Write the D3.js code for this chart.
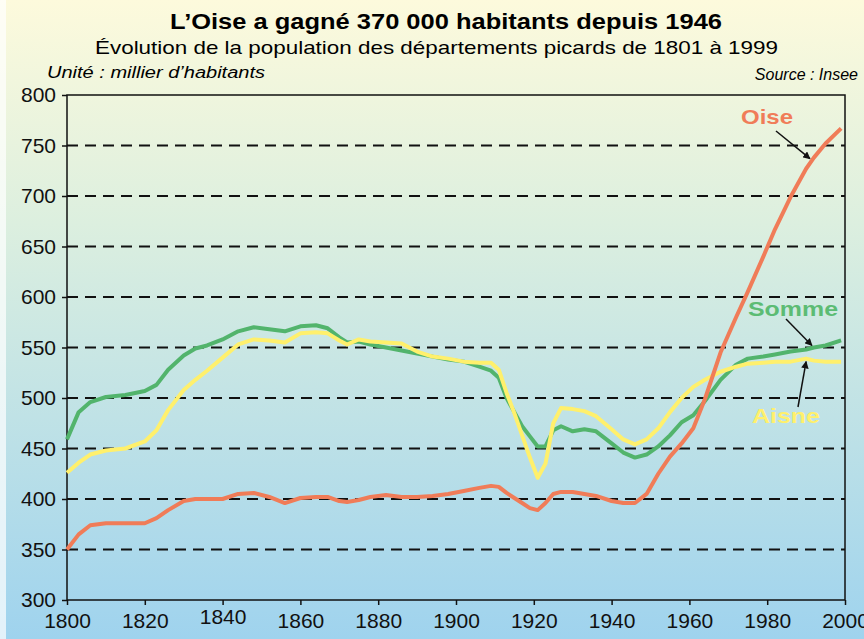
<!DOCTYPE html>
<html>
<head>
<meta charset="utf-8">
<script src="https://cdn.jsdelivr.net/npm/d3@7"></script>
<style>
  body { margin: 0; }
  text { font-family: "Liberation Sans", Arial, sans-serif; }
</style>
</head>
<body>
<script>
// data (milliers d'habitants)
var years = [1800, 1803, 1806, 1810, 1815, 1820, 1823, 1826, 1830, 1833, 1836, 1840,
  1844, 1848, 1852, 1856, 1860, 1864, 1867, 1870, 1872, 1875, 1878, 1882, 1886,
  1890, 1894, 1898, 1902, 1906, 1909, 1911, 1913, 1915, 1917, 1919, 1921, 1923,
  1925, 1927, 1930, 1933, 1936, 1940, 1943, 1946, 1949, 1952, 1955, 1958, 1961,
  1964, 1968, 1972, 1975, 1979, 1982, 1986, 1990, 1992, 1995, 1999];

var somme = [459, 486, 496, 501, 503, 507, 513, 528, 542, 549, 552, 558,
  566, 570, 568, 566, 571, 572, 569, 560, 555, 556, 553, 550, 547,
  544, 541, 538, 536, 531, 527, 520, 500, 486, 472, 462, 452, 452,
  468, 472, 467, 469, 467, 455, 446, 441, 444, 452, 463, 476, 483,
  497, 518, 533, 539, 541, 543, 546, 548, 550, 552, 557];

var aisne = [426, 436, 444, 448, 450, 457, 468, 488, 508, 518, 527, 540,
  553, 558, 557, 555, 564, 565, 564, 557, 553, 558, 556, 555, 554,
  546, 541, 539, 536, 535, 535, 528, 505, 485, 463, 441, 421, 435,
  475, 490, 489, 487, 482, 469, 459, 454, 459, 470, 486, 500, 511,
  518, 526, 531, 534, 535, 536, 536, 539, 537, 536, 536];

var oise = [350, 365, 374, 376, 376, 376, 381, 389, 398, 400, 400, 400,
  405, 406, 402, 396, 401, 402, 402, 398, 397, 399, 402, 404, 402,
  402, 403, 405, 408, 411, 413, 412, 406, 401, 396, 391, 389, 396,
  405, 407, 407, 405, 403, 398, 396, 396, 405, 425, 442, 455, 470,
  499, 545, 580, 605, 640, 667, 699, 727, 738, 752, 767];

var yTicks = [300, 350, 400, 450, 500, 550, 600, 650, 700, 750, 800];
var xTicks = [1800, 1820, 1840, 1860, 1880, 1900, 1920, 1940, 1960, 1980, 2000];
var gridValues = [350, 400, 450, 500, 550, 600, 650, 700, 750];

var W = 864, H = 639;
var margin = {top: 95, right: 19, bottom: 39, left: 67};

var svg = d3.select("body").append("svg")
    .attr("width", W)
    .attr("height", H);

// background gradient
var grad = svg.append("defs").append("linearGradient")
    .attr("id", "bg")
    .attr("x1", 0).attr("y1", 0).attr("x2", 0).attr("y2", 1);
grad.append("stop").attr("offset", "0%").attr("stop-color", "#fdfadc");
grad.append("stop").attr("offset", "35%").attr("stop-color", "#dcefdf");
grad.append("stop").attr("offset", "100%").attr("stop-color", "#9fd3ee");

svg.append("rect")
    .attr("width", W).attr("height", H)
    .attr("fill", "url(#bg)");
svg.append("rect")
    .attr("width", 6).attr("height", H)
    .attr("fill", "#ffffff").attr("opacity", 0.7);

var x = d3.scaleLinear().domain([1800, 2000]).range([margin.left, W - margin.right]);
var y = d3.scaleLinear().domain([300, 800]).range([H - margin.bottom, margin.top]);

// titles (the original type is a bit wider, so stretch to its measured width)
svg.append("text")
    .attr("x", 170).attr("y", 29)
    .attr("font-size", 22).attr("font-weight", "bold")
    .attr("textLength", 552).attr("lengthAdjust", "spacingAndGlyphs")
    .text("L\u2019Oise a gagné 370 000 habitants depuis 1946");
svg.append("text")
    .attr("x", 95).attr("y", 54)
    .attr("font-size", 19)
    .attr("textLength", 683).attr("lengthAdjust", "spacingAndGlyphs")
    .text("Évolution de la population des départements picards de 1801 à 1999");
svg.append("text")
    .attr("x", 47).attr("y", 78)
    .attr("font-size", 16).attr("font-style", "italic")
    .attr("textLength", 218).attr("lengthAdjust", "spacingAndGlyphs")
    .text("Unité : millier d\u2019habitants");
svg.append("text")
    .attr("x", 858).attr("y", 80)
    .attr("text-anchor", "end")
    .attr("font-size", 16).attr("font-style", "italic")
    .text("Source : Insee");

// dashed grid
svg.append("g")
  .selectAll("line")
  .data(gridValues)
  .join("line")
    .attr("x1", x(1800)).attr("x2", x(2000))
    .attr("y1", function(d) { return y(d); })
    .attr("y2", function(d) { return y(d); })
    .attr("stroke", "#111")
    .attr("stroke-width", 2)
    .attr("stroke-dasharray", "11,7");

// frame
svg.append("rect")
    .attr("x", x(1800)).attr("y", y(800))
    .attr("width", x(2000) - x(1800))
    .attr("height", y(300) - y(800))
    .attr("fill", "none")
    .attr("stroke", "#111")
    .attr("stroke-width", 1.5);

// axes
var xAxis = svg.append("g")
    .attr("transform", "translate(0," + y(300) + ")")
    .call(d3.axisBottom(x).tickValues(xTicks).tickFormat(d3.format("d"))
      .tickSize(5).tickSizeOuter(0).tickPadding(8));
xAxis.select(".domain").remove();
xAxis.selectAll("line").attr("stroke", "#111").attr("stroke-width", 1.5);
xAxis.selectAll("text")
    .attr("font-size", 21)
    .attr("fill", "#111")
    .attr("dy", function(d) { return d === 1840 ? "0.5em" : "0.71em"; })
    .attr("font-family", "Liberation Sans, Arial, sans-serif");

var yAxis = svg.append("g")
    .attr("transform", "translate(" + x(1800) + ",0)")
    .call(d3.axisLeft(y).tickValues(yTicks).tickSize(5).tickSizeOuter(0));
yAxis.select(".domain").remove();
yAxis.selectAll("line").attr("stroke", "#111").attr("stroke-width", 1.5);
yAxis.selectAll("text")
    .attr("font-size", 21)
    .attr("fill", "#111")
    .attr("x", -11)
    .attr("font-family", "Liberation Sans, Arial, sans-serif");

// series lines
var line = d3.line()
    .x(function(d, i) { return x(years[i]); })
    .y(function(d) { return y(d); });

var series = [
  {name: "Somme", values: somme, color: "#52b46c"},
  {name: "Aisne", values: aisne, color: "#fff06c"},
  {name: "Oise", values: oise, color: "#f07c58"}
];

svg.selectAll("path.serie")
  .data(series)
  .join("path")
    .attr("class", "serie")
    .attr("d", function(d) { return line(d.values); })
    .attr("fill", "none")
    .attr("stroke", function(d) { return d.color; })
    .attr("stroke-width", 4)
    .attr("stroke-linejoin", "round");

// annotations
svg.append("defs").append("marker")
    .attr("id", "head")
    .attr("viewBox", "0 0 10 10")
    .attr("refX", 9).attr("refY", 5)
    .attr("markerWidth", 5).attr("markerHeight", 5)
    .attr("orient", "auto")
  .append("path")
    .attr("d", "M0,0L10,5L0,10z")
    .attr("fill", "#111");

var labels = [
  {text: "Oise", color: "#f07c58", tx: 741, ty: 124, w: 52, x1: 776, y1: 131, year: 1991, val: 734},
  {text: "Somme", color: "#5cbc74", tx: 748, ty: 316, w: 90, x1: 786, y1: 319, year: 1991.5, val: 549},
  {text: "Aisne", color: "#fff06c", tx: 752, ty: 423, w: 68, x1: 798, y1: 407, year: 1990, val: 541}
];

labels.forEach(function(l) {
  svg.append("text")
      .attr("x", l.tx).attr("y", l.ty)
      .attr("font-size", 21).attr("font-weight", "bold")
      .attr("fill", l.color)
      .attr("textLength", l.w).attr("lengthAdjust", "spacingAndGlyphs")
      .text(l.text);
  svg.append("line")
      .attr("x1", l.x1).attr("y1", l.y1)
      .attr("x2", x(l.year)).attr("y2", y(l.val) + (l.text === "Aisne" ? 5 : -3))
      .attr("stroke", "#111")
      .attr("stroke-width", 1.5)
      .attr("marker-end", "url(#head)");
});
</script>
</body>
</html>
